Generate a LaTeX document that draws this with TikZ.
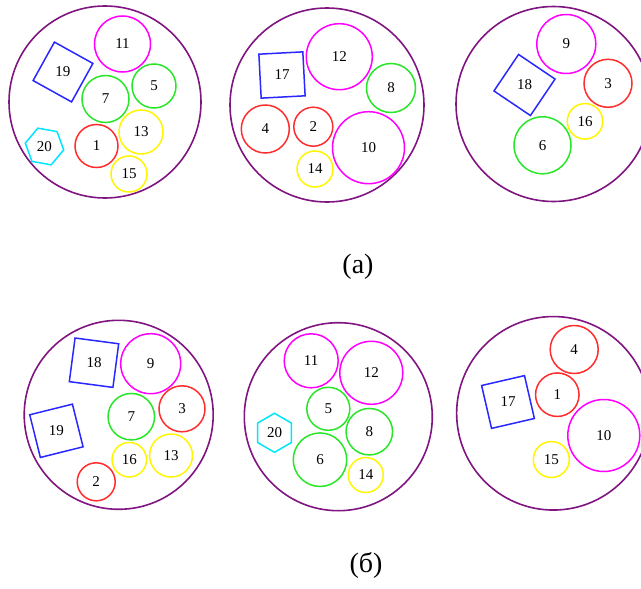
\documentclass[tikz,border=0pt]{standalone}
\usepackage{fontspec}
\setmainfont{Liberation Serif}
\usetikzlibrary{shapes.geometric}
\definecolor{cpur}{RGB}{128,20,128}
\definecolor{cmag}{RGB}{255,0,255}
\definecolor{cgrn}{RGB}{40,230,40}
\definecolor{cred}{RGB}{255,45,45}
\definecolor{cyel}{RGB}{255,245,0}
\definecolor{cblu}{RGB}{40,40,255}
\definecolor{ccyn}{RGB}{0,230,255}
\tikzset{
  base/.style={inner sep=0pt, line width=1.5pt, font=\fontsize{15}{15}\selectfont},
  big/.style={circle, draw=cpur, line width=1.6pt, inner sep=0pt, minimum size=#1},
  ball/.style 2 args={base, circle, draw=#1, minimum size=#2},
  sqbox/.style={base, rectangle, draw=cblu, minimum size=44pt, rotate=#1},
  hexbox/.style={base, regular polygon, regular polygon sides=6, draw=ccyn, minimum size=39pt, shape border rotate=#1},
  numtext/.style={font=\fontsize{15}{15}\selectfont},
  captext/.style={font=\fontsize{28}{28}\selectfont}
}
\begin{document}
\begin{tikzpicture}[x=1pt,y=-1pt]
\useasboundingbox (0,0) rectangle (641,589);
% ---------- (a) panel 1
\node[big=192pt] (A1) at (105,102) {};
\node[ball={cmag}{56pt}] (A1n11) at (122.5,44) {11};
\node[sqbox=-29] (A1s19) at (63,72) {};
\node[numtext] (A1t19) at (A1s19) {19};
\node[ball={cgrn}{47pt}] (A1n7) at (105.5,99) {7};
\node[ball={cgrn}{44pt}] (A1n5) at (154,86) {5};
\node[ball={cyel}{44pt}] (A1n13) at (141,132) {13};
\node[ball={cred}{43pt}] (A1n1) at (96.5,146) {1};
\node[ball={cyel}{36pt}] (A1n15) at (129,174) {15};
\node[hexbox=-10] (A1h20) at (44.5,146.5) {};
\node[numtext] (A1t20) at (A1h20) {20};
% ---------- (a) panel 2
\node[big=194pt] (A2) at (327,105) {};
\node[sqbox=3] (A2s17) at (282,75) {};
\node[numtext] (A2t17) at (A2s17) {17};
\node[ball={cmag}{66pt}] (A2n12) at (339.3,56.7) {12};
\node[ball={cgrn}{49pt}] (A2n8) at (391,88) {8};
\node[ball={cred}{48pt}] (A2n4) at (265.3,129) {4};
\node[ball={cred}{39pt}] (A2n2) at (313.3,126.7) {2};
\node[ball={cmag}{72pt}] (A2n10) at (368.5,147.7) {10};
\node[ball={cyel}{36pt}] (A2n14) at (315,169) {14};
% ---------- (a) panel 3
\node[big=195pt] (A3) at (553.5,104) {};
\node[ball={cmag}{59pt}] (A3n9) at (566.3,44) {9};
\node[sqbox=-34] (A3s18) at (524.5,85) {};
\node[numtext] (A3t18) at (A3s18) {18};
\node[ball={cred}{48pt}] (A3n3) at (608,83.3) {3};
\node[ball={cyel}{35.5pt}] (A3n16) at (585,121.3) {16};
\node[ball={cgrn}{57pt}] (A3n6) at (542.5,145.3) {6};
\node[captext] (capA) at (358,267) {(а)};
% ---------- (b) panel 1
\node[big=189pt] (B1) at (118.7,414.8) {};
\node[sqbox=-7.5] (B1s18) at (94,362.7) {};
\node[numtext] (B1t18) at (B1s18) {18};
\node[ball={cmag}{60pt}] (B1n9) at (150.7,363.7) {9};
\node[sqbox=14] (B1s19) at (56.4,430.8) {};
\node[numtext] (B1t19) at (B1s19) {19};
\node[ball={cgrn}{46.5pt}] (B1n7) at (131.3,416.7) {7};
\node[ball={cred}{46pt}] (B1n3) at (182,408.8) {3};
\node[ball={cyel}{34.5pt}] (B1n16) at (129.3,459.7) {16};
\node[ball={cyel}{43pt}] (B1n13) at (171,455.5) {13};
\node[ball={cred}{38pt}] (B1n2) at (96.2,481.8) {2};
% ---------- (b) panel 2
\node[big=188pt] (B2) at (338.3,416.7) {};
\node[ball={cmag}{54pt}] (B2n11) at (311.2,360.8) {11};
\node[ball={cmag}{63pt}] (B2n12) at (371.3,372.8) {12};
\node[ball={cgrn}{43pt}] (B2n5) at (328.3,408.8) {5};
\node[ball={cgrn}{46.5pt}] (B2n8) at (369.3,431.7) {8};
\node[hexbox=30] (B2h20) at (274.5,432.8) {};
\node[numtext] (B2t20) at (B2h20) {20};
\node[ball={cgrn}{53.5pt}] (B2n6) at (320,459.7) {6};
\node[ball={cyel}{35pt}] (B2n14) at (365.8,475) {14};
% ---------- (b) panel 3
\node[big=193.5pt] (B3) at (553.4,413.3) {};
\node[ball={cred}{48pt}] (B3n4) at (574.2,349.5) {4};
\node[ball={cred}{43.5pt}] (B3n1) at (557.3,394.7) {1};
\node[sqbox=13] (B3s17) at (508,402) {};
\node[numtext] (B3t17) at (B3s17) {17};
\node[ball={cmag}{72pt}] (B3n10) at (603.8,435.5) {10};
\node[ball={cyel}{36pt}] (B3n15) at (551.3,459.5) {15};
\node[captext] (capB) at (366,565) {(б)};
\end{tikzpicture}
\end{document}
